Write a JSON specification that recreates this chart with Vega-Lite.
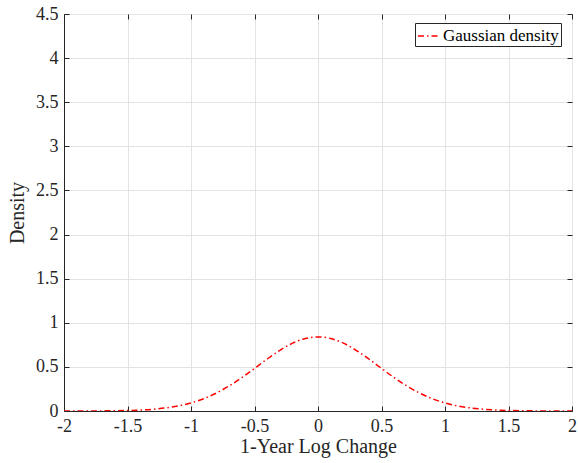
{
  "$schema": "https://vega.github.io/schema/vega-lite/v6.json",
  "width": 508,
  "height": 397,
  "autosize": {"type": "none"},
  "padding": {"left": 64, "top": 14, "right": 6, "bottom": 52},
  "background": "white",
  "config": {
    "font": "Times New Roman",
    "view": {"stroke": "#262626", "strokeWidth": 1},
    "style": {"guide-label": {"font": "Times New Roman"}, "guide-title": {"font": "Times New Roman"}},
    "axis": {
      "domainColor": "#262626",
      "tickColor": "#262626",
      "labelColor": "#262626",
      "titleColor": "#262626",
      "labelFont": "Times New Roman",
      "titleFont": "Times New Roman",
      "labelFontSize": 18,
      "titleFontSize": 20,
      "titleFontWeight": "normal",
      "gridColor": "#e3e3e3",
      "tickSize": -5
    },
    "legend": {
      "labelFont": "Times New Roman"
    }
  },
  "data": {
    "values": [
      {"x": -2.0, "y": 0.0001}, {"x": -1.9, "y": 0.0003}, {"x": -1.8, "y": 0.0006},
      {"x": -1.7, "y": 0.0014}, {"x": -1.6, "y": 0.0029}, {"x": -1.5, "y": 0.0057},
      {"x": -1.4, "y": 0.0109}, {"x": -1.3, "y": 0.0199}, {"x": -1.2, "y": 0.0346},
      {"x": -1.1, "y": 0.0575}, {"x": -1.0, "y": 0.0916}, {"x": -0.9, "y": 0.1396},
      {"x": -0.8, "y": 0.2034}, {"x": -0.7, "y": 0.2837}, {"x": -0.6, "y": 0.3783},
      {"x": -0.5, "y": 0.4827}, {"x": -0.4, "y": 0.5893}, {"x": -0.3, "y": 0.6881},
      {"x": -0.2, "y": 0.7688}, {"x": -0.1, "y": 0.8216}, {"x": 0.0, "y": 0.84},
      {"x": 0.1, "y": 0.8216}, {"x": 0.2, "y": 0.7688}, {"x": 0.3, "y": 0.6881},
      {"x": 0.4, "y": 0.5893}, {"x": 0.5, "y": 0.4827}, {"x": 0.6, "y": 0.3783},
      {"x": 0.7, "y": 0.2837}, {"x": 0.8, "y": 0.2034}, {"x": 0.9, "y": 0.1396},
      {"x": 1.0, "y": 0.0916}, {"x": 1.1, "y": 0.0575}, {"x": 1.2, "y": 0.0346},
      {"x": 1.3, "y": 0.0199}, {"x": 1.4, "y": 0.0109}, {"x": 1.5, "y": 0.0057},
      {"x": 1.6, "y": 0.0029}, {"x": 1.7, "y": 0.0014}, {"x": 1.8, "y": 0.0006},
      {"x": 1.9, "y": 0.0003}, {"x": 2.0, "y": 0.0001}
    ]
  },
  "layer": [
    {
      "mark": {"type": "line", "interpolate": "monotone", "strokeWidth": 1.5, "strokeDash": [6, 3, 1.5, 3], "clip": true},
      "encoding": {
        "x": {
          "field": "x", "type": "quantitative",
          "scale": {"domain": [-2, 2], "nice": false, "zero": false},
          "axis": {
            "values": [-2, -1.5, -1, -0.5, 0, 0.5, 1, 1.5, 2],
            "labelExpr": "'' + datum.value",
            "labelFont": "Times New Roman",
            "labelFontSize": 18,
            "title": "1-Year Log Change",
            "labelPadding": 11,
            "titlePadding": 1,
            "labelFlush": false
          }
        },
        "y": {
          "field": "y", "type": "quantitative",
          "scale": {"domain": [0, 4.5], "nice": false},
          "axis": {
            "values": [0, 0.5, 1, 1.5, 2, 2.5, 3, 3.5, 4, 4.5],
            "labelExpr": "'' + datum.value",
            "labelFont": "Times New Roman",
            "labelFontSize": 18,
            "title": "Density",
            "labelPadding": 11,
            "titlePadding": 8,
            "labelFlush": false
          }
        },
        "color": {
          "datum": "Gaussian density",
          "type": "nominal",
          "scale": {"range": ["#ff0000"]},
          "legend": {
            "title": null,
            "orient": "none",
            "legendX": 351,
            "legendY": 9,
            "symbolType": "stroke",
            "symbolStrokeWidth": 1.5,
            "symbolDash": [6, 3, 1.5, 3],
            "symbolSize": 400,
            "labelFont": "Times New Roman",
            "labelFontSize": 17,
            "labelColor": "#000000",
            "strokeColor": "#262626",
            "fillColor": "white",
            "padding": 2,
            "labelOffset": 4
          }
        }
      }
    },
    {
      "mark": {"type": "line", "opacity": 0},
      "encoding": {
        "x": {
          "field": "x", "type": "quantitative",
          "axis": {"orient": "top", "values": [-2, -1.5, -1, -0.5, 0, 0.5, 1, 1.5, 2], "labels": false, "title": null, "grid": false, "domain": false}
        },
        "y": {
          "field": "y", "type": "quantitative",
          "axis": {"orient": "right", "values": [0, 0.5, 1, 1.5, 2, 2.5, 3, 3.5, 4, 4.5], "labels": false, "title": null, "grid": false, "domain": false}
        }
      }
    }
  ],
  "resolve": {"axis": {"x": "independent", "y": "independent"}}
}
